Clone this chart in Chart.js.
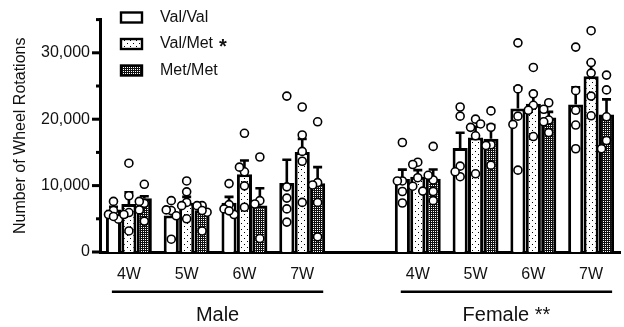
<!DOCTYPE html>
<html><head><meta charset="utf-8">
<script src="https://cdn.jsdelivr.net/npm/chart.js@4.4.0/dist/chart.umd.min.js"></script>
<style>html,body{margin:0;padding:0;background:#fff}#wrap{width:624px;height:327px;position:relative}</style>
</head><body><div id="wrap"><canvas id="c" width="624" height="327"></canvas></div>
<script>
// ---- data ----
const categories = ["4W","5W","6W","7W","","4W","5W","6W","7W"];
const groupLabels = ["Male","Female **"];
const groupRanges = [[0,3],[5,8]];
const seriesNames = ["Val/Val","Val/Met","Met/Met"];
const seriesMarks = ["","*",""];
const valValMean = [6400,5500,7400,10400,null,11000,15650,21600,22200];
const valMetMean = [7230,7400,11700,15050,null,11340,17240,22330,26450];
const metMetMean = [8100,6300,7000,10350,null,11040,17040,20250,20700];
const valValSem  = [400,500,900,3500,null,1400,2300,3200,2600];
const valMetSem  = [1750,900,2070,1990,null,990,1630,1640,2080];
const metMetSem  = [300,500,2610,2430,null,1390,2080,850,2290];
const valValPts = [
  [7620,6240,5650,4950,5350],[7730,6240,6340,5450,1930],[10300,7130,6490,5650,6200],[23480,9810,8120,6490,4500],
  [],
  [16490,10700,10700,9110,7380],[21840,20460,12930,11340,12080],[31500,24560,20460,19220,12330],[30860,24300,21350,19120,15550]
];
const valMetPts = [
  [13370,8470,5940,5650,3170],[10700,9060,7470,6980,5000],[17880,12080,12780,9960,6740],[21840,17630,15150,13670,7470],
  [],
  [13520,13180,11190,9910,9170],[20010,18770,19280,11780,17500],[27790,23820,22090,21350,17390],[33330,28530,26940,23480,20510]
];
const metMetPts = [
  [10200,7330,7620,6340,4650],[6980,6980,5990,6240,3170],[14310,7730,7230,2030],[19610,10450,10100,7470,2280],
  [],
  [15900,10850,11550,9110,7730],[21250,18770,16150,16050,13080],[22480,21500,19870,19610,17980],[26640,24410,20360,16790,15550]
];
const yMax = 35000;
const yTickValues = [0,5000,10000,15000,20000,25000,30000,35000];
const yLabelValues = [0,10000,20000,30000];

// ---- patterns ----
function makePattern(kind){
  const p = document.createElement('canvas');
  const ctx = p.getContext('2d');
  if(kind==='dots'){
    p.width=6;p.height=6;
    ctx.fillStyle='#fff';ctx.fillRect(0,0,6,6);
    ctx.fillStyle='#000';ctx.fillRect(1,1,1,1);ctx.fillRect(4,4,1,1);
  } else if(kind==='check'){
    p.width=4;p.height=4;
    ctx.fillStyle='#111';ctx.fillRect(0,0,4,4);
    ctx.fillStyle='#fff';ctx.fillRect(1,1,1,1);ctx.fillRect(3,3,1,1);ctx.fillRect(1,3,1,1);ctx.fillRect(3,1,1,1);
  } else {
    p.width=2;p.height=2;ctx.fillStyle='#fff';ctx.fillRect(0,0,2,2);
  }
  return document.getElementById('c').getContext('2d').createPattern(p,'repeat');
}
const fills = [makePattern('plain'), makePattern('dots'), makePattern('check')];
const means = [valValMean, valMetMean, metMetMean];
const sems = [valValSem, valMetSem, metMetSem];
const pts = [valValPts, valMetPts, metMetPts];
const FONT = '"Liberation Sans", Arial, sans-serif';

const deco = {
  id:'deco',
  afterDatasetsDraw(chart){
    const ctx = chart.ctx, ys = chart.scales.y;
    ctx.save();
    // error bars
    ctx.strokeStyle='#000'; ctx.lineWidth=2.6; ctx.lineCap='butt';
    means.forEach((m,i)=>{
      const meta = chart.getDatasetMeta(i);
      m.forEach((v,j)=>{
        if(v==null) return;
        const b = meta.data[j];
        const top = ys.getPixelForValue(v+sems[i][j]);
        ctx.beginPath();
        ctx.moveTo(b.x, b.y); ctx.lineTo(b.x, top);
        ctx.moveTo(b.x-4.5, top); ctx.lineTo(b.x+4.5, top);
        ctx.stroke();
      });
    });
    // individual points (simple swarm, kept within the bar)
    const r = 4;
    pts.forEach((arr,i)=>{
      const meta = chart.getDatasetMeta(i);
      arr.forEach((list,j)=>{
        if(!list.length) return;
        const b = meta.data[j];
        const placed = [];
        list.forEach(v=>{
          const py = ys.getPixelForValue(v);
          const offs = [0,-5,5];
          let best = 0, bestD = -1;
          for(const o of offs){
            const d = placed.length ? Math.min(...placed.map(p=>Math.hypot(p[0]-o,p[1]-py))) : 1e9;
            if(d >= 2*r+1){ best=o; bestD=d; break; }
            if(d > bestD){ bestD=d; best=o; }
          }
          placed.push([best,py]);
          ctx.beginPath();
          ctx.arc(b.x+best, py, r, 0, Math.PI*2);
          ctx.fillStyle='#fff'; ctx.fill();
          ctx.lineWidth=1.6; ctx.strokeStyle='#000'; ctx.stroke();
        });
      });
    });
    ctx.restore();
  },
  afterDraw(chart){
    const ctx = chart.ctx, ys = chart.scales.y, xs = chart.scales.x, ca = chart.chartArea;
    ctx.save();
    // y ticks
    ctx.fillStyle='#000';
    yTickValues.forEach(v=>{
      const py = ys.getPixelForValue(v);
      const len = yLabelValues.includes(v) ? 8 : 4;
      ctx.fillRect(ca.left-len, py-1.5, len, 3);
    });
    // group lines and labels
    groupRanges.forEach((g,k)=>{
      const x0 = xs.getPixelForValue(g[0]) - 17;
      const x1 = xs.getPixelForValue(g[1]) + 21;
      ctx.fillRect(x0, 290.5, x1-x0, 2.5);
      ctx.font = '20px '+FONT;
      ctx.textAlign='center'; ctx.textBaseline='middle';
      ctx.fillStyle='#111';
      ctx.fillText(groupLabels[k], (x0+x1)/2, 315);
      ctx.fillStyle='#000';
    });
    // legend
    seriesNames.forEach((name,i)=>{
      const cy = 17.5 + i*26.5;
      ctx.fillStyle = fills[i];
      ctx.fillRect(121, cy-5, 21, 10);
      ctx.lineWidth=2.4; ctx.strokeStyle='#000';
      ctx.strokeRect(121, cy-5, 21, 10);
      ctx.fillStyle='#111';
      ctx.font='16px '+FONT; ctx.textAlign='left'; ctx.textBaseline='middle';
      ctx.fillText(name, 160, cy);
      if(seriesMarks[i]){
        const w = ctx.measureText(name).width;
        ctx.font='bold 20px '+FONT;
        ctx.fillText(seriesMarks[i], 160+w+6, cy+3);
      }
    });
    ctx.restore();
  }
};

new Chart(document.getElementById('c'), {
  type:'bar',
  data:{
    labels: categories,
    datasets: seriesNames.map((n,i)=>({
      label:n, data:means[i], backgroundColor:fills[i], borderColor:'#000', borderWidth:3,
      categoryPercentage:0.8, barPercentage:0.98
    }))
  },
  options:{
    responsive:false, animation:false, devicePixelRatio:1,
    layout:{padding:{top:16,right:4,left:0,bottom:0}},
    plugins:{legend:{display:false}, tooltip:{enabled:false}},
    scales:{
      x:{
        grid:{display:false, drawTicks:false},
        border:{display:true, width:3, color:'#000'},
        ticks:{color:'#111', font:{family:FONT, size:16}, padding:13, maxRotation:0, autoSkip:false},
        afterFit(s){ s.height = 75; }
      },
      y:{
        min:0, max:yMax,
        grid:{display:false, drawTicks:false},
        border:{display:true, width:3, color:'#000'},
        afterBuildTicks(s){ s.ticks = yLabelValues.map(v=>({value:v})); },
        ticks:{autoSkip:false, color:'#111', font:{family:FONT, size:16}, padding:10,
          callback:(v)=> String(Math.round(v)).replace(/\B(?=(\d{3})+(?!\d))/g, ',')},
        title:{display:true, text:'Number of Wheel Rotations', color:'#111', font:{family:FONT, size:16}, padding:{top:11,bottom:0}},
        afterFit(s){ s.width = 100; }
      }
    }
  },
  plugins:[deco]
});
</script>
</body></html>
